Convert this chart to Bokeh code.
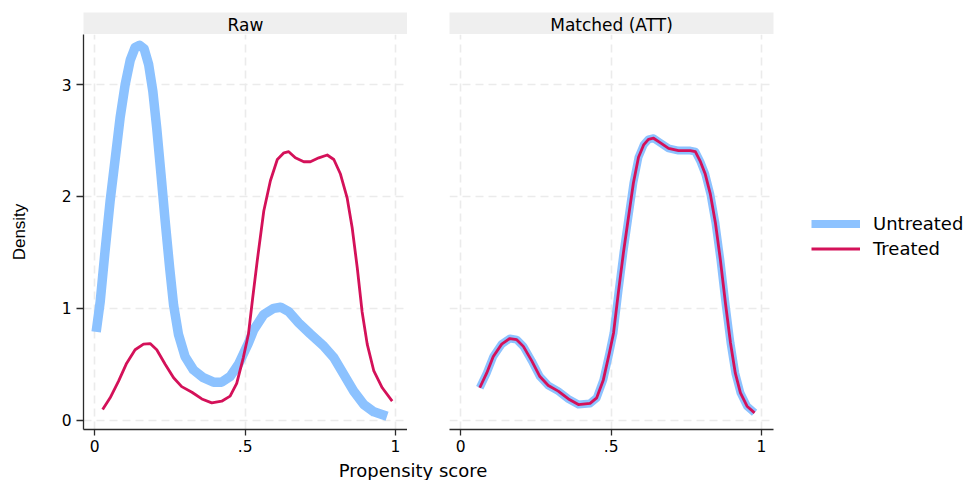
from bokeh.plotting import figure
from bokeh.layouts import row, column
from bokeh.models import Range1d, LinearAxis, Grid, FixedTicker, Legend, LegendItem
from bokeh.core.properties import value
from bokeh.embed import file_html
from bokeh.resources import INLINE

# ---------------- data ----------------
panels = ["Raw", "Matched (ATT)"]
series = ["Untreated", "Treated"]
x_title = "Propensity score"
y_title = "Density"
x_ticks = [0, 0.5, 1]
x_tick_labels = ["0", ".5", "1"]
y_ticks = [0, 1, 2, 3]
y_tick_labels = ["0", "1", "2", "3"]

raw_untreated_x = [0.0045, 0.018, 0.034, 0.051, 0.068, 0.084, 0.101, 0.118, 0.134, 0.149, 0.164,
                   0.179, 0.193, 0.206, 0.220, 0.234, 0.249, 0.262, 0.278, 0.300, 0.328, 0.361,
                   0.395, 0.422, 0.450, 0.478, 0.511, 0.529, 0.562, 0.595, 0.618, 0.645, 0.678,
                   0.717, 0.762, 0.795, 0.828, 0.861, 0.895, 0.928, 0.972]
raw_untreated_y = [0.79, 1.06, 1.51, 1.96, 2.34, 2.70, 3.00, 3.22, 3.33, 3.35, 3.32,
                   3.18, 2.94, 2.61, 2.20, 1.78, 1.36, 1.03, 0.77, 0.57, 0.45, 0.38,
                   0.34, 0.34, 0.39, 0.50, 0.69, 0.81, 0.945, 1.00, 1.01, 0.97, 0.87,
                   0.77, 0.66, 0.56, 0.41, 0.26, 0.14, 0.075, 0.036]

raw_treated_x = [0.026, 0.051, 0.079, 0.106, 0.134, 0.162, 0.184, 0.206, 0.234, 0.262, 0.289,
                 0.323, 0.356, 0.389, 0.422, 0.450, 0.472, 0.494, 0.511, 0.525, 0.540, 0.562,
                 0.584, 0.607, 0.629, 0.645, 0.667, 0.695, 0.717, 0.745, 0.773, 0.795, 0.817,
                 0.839, 0.856, 0.873, 0.889, 0.906, 0.928, 0.956, 0.989]
raw_treated_y = [0.096, 0.20, 0.35, 0.51, 0.63, 0.68, 0.685, 0.63, 0.50, 0.38, 0.30,
                 0.25, 0.19, 0.155, 0.17, 0.215, 0.33, 0.56, 0.77, 1.09, 1.42, 1.87,
                 2.14, 2.33, 2.39, 2.40, 2.345, 2.31, 2.31, 2.345, 2.37, 2.33, 2.20,
                 1.99, 1.72, 1.36, 0.97, 0.68, 0.44, 0.29, 0.17]

matched_untreated_x = [0.063, 0.086, 0.108, 0.136, 0.163, 0.186, 0.208, 0.236, 0.263, 0.291, 0.324,
                       0.358, 0.391, 0.430, 0.452, 0.474, 0.494, 0.508, 0.524, 0.541, 0.558, 0.574,
                       0.591, 0.608, 0.624, 0.641, 0.663, 0.691, 0.724, 0.763, 0.780, 0.797, 0.813,
                       0.830, 0.847, 0.863, 0.880, 0.897, 0.913, 0.930, 0.952, 0.977]
matched_untreated_y = [0.29, 0.42, 0.57, 0.68, 0.73, 0.72, 0.66, 0.53, 0.39, 0.31, 0.26,
                       0.19, 0.14, 0.15, 0.20, 0.36, 0.60, 0.78, 1.14, 1.50, 1.82, 2.12,
                       2.35, 2.46, 2.51, 2.52, 2.48, 2.43, 2.41, 2.41, 2.40, 2.31, 2.20,
                       2.02, 1.76, 1.44, 1.05, 0.69, 0.42, 0.245, 0.125, 0.066]

matched_treated_x = [0.063, 0.086, 0.108, 0.136, 0.163, 0.186, 0.208, 0.236, 0.263, 0.291, 0.324,
                     0.358, 0.391, 0.430, 0.452, 0.474, 0.494, 0.508, 0.524, 0.541, 0.558, 0.574,
                     0.591, 0.608, 0.624, 0.641, 0.663, 0.691, 0.724, 0.763, 0.780, 0.797, 0.813,
                     0.830, 0.847, 0.863, 0.880, 0.897, 0.913, 0.930, 0.952, 0.977]
matched_treated_y = [0.29, 0.42, 0.57, 0.68, 0.73, 0.72, 0.66, 0.53, 0.39, 0.31, 0.26,
                     0.19, 0.14, 0.15, 0.20, 0.36, 0.60, 0.78, 1.14, 1.50, 1.82, 2.12,
                     2.35, 2.46, 2.51, 2.52, 2.48, 2.43, 2.41, 2.41, 2.40, 2.31, 2.20,
                     2.02, 1.76, 1.44, 1.05, 0.69, 0.42, 0.245, 0.125, 0.066]

# ---------------- style ----------------
BLUE = "#8cc2ff"
RED = "#d41159"
AXIS = "#2b2b2b"
GRID = "#ebebeb"
STRIP = "#efefef"
FONT = "DejaVu Sans"

TOTAL_W = 966
FRAME_W = 324
FRAME_H = 395
LEFT = 83
GAP = 42
LEG_W = TOTAL_W - LEFT - FRAME_W - GAP - FRAME_W
TOP = 12
STRIP_H = 22
BOTTOM = 31
XLAB_H = 20
XLAB_FRAME = 825
LEG_X = 38          # legend key offset from the right panel's frame edge
LEG_CENTER = 193    # legend vertical centre, px above frame bottom

X_RANGE = (-0.0376, 1.040)
Y_RANGE = (-0.083, 3.447)

overrides_x = {t: l for t, l in zip(x_ticks, x_tick_labels)}
overrides_y = {t: l for t, l in zip(y_ticks, y_tick_labels)}


def bare(**kw):
    f = figure(toolbar_location=None, output_backend="svg", x_axis_location=None, y_axis_location=None,
               outline_line_color=None, border_fill_color="white", **kw)
    f.center = []
    return f


def strip(title, lb, rb):
    s = bare(frame_width=FRAME_W, frame_height=STRIP_H, min_border_left=lb, min_border_right=rb,
             min_border_top=TOP, min_border_bottom=0, x_range=Range1d(0, 1), y_range=Range1d(0, 1),
             background_fill_color=STRIP)
    s.text(x=[0.5], y=[0.45], text=[title], text_align="center", text_baseline="middle",
           text_font=value(FONT), text_font_size="17px", text_color="black")
    return s


def panel(lb, rb, with_y):
    p = bare(frame_width=FRAME_W, frame_height=FRAME_H, min_border_left=lb, min_border_right=rb,
             min_border_top=0, min_border_bottom=BOTTOM,
             x_range=Range1d(*X_RANGE), y_range=Range1d(*Y_RANGE), background_fill_color="white")
    for dim, ticks in ((0, x_ticks), (1, y_ticks)):
        p.add_layout(Grid(dimension=dim, ticker=FixedTicker(ticks=ticks, minor_ticks=[]),
                          grid_line_color=GRID, grid_line_width=1.6, grid_line_dash="8 5"))
    xa = LinearAxis(ticker=FixedTicker(ticks=x_ticks, minor_ticks=[]), major_label_overrides=overrides_x,
                    axis_line_color=AXIS, axis_line_width=1.3, major_tick_line_color=AXIS,
                    major_tick_line_width=1.3, major_tick_in=0, major_tick_out=6, minor_tick_in=0,
                    minor_tick_out=0, major_label_standoff=4, major_label_text_font=FONT,
                    major_label_text_font_size="15.5px", major_label_text_color="black")
    p.add_layout(xa, "below")
    if with_y:
        ya = LinearAxis(ticker=FixedTicker(ticks=y_ticks, minor_ticks=[]), major_label_overrides=overrides_y,
                        axis_line_color=AXIS, axis_line_width=1.3, major_tick_line_color=AXIS,
                        major_tick_line_width=1.3, major_tick_in=0, major_tick_out=7, minor_tick_in=0,
                        minor_tick_out=0, major_label_standoff=5, major_label_text_font=FONT,
                        major_label_text_font_size="15.5px", major_label_text_color="black",
                        axis_label=y_title, axis_label_text_font="Liberation Sans",
                        axis_label_text_font_size="17px", axis_label_text_font_style="normal",
                        axis_label_text_color="black", axis_label_standoff=30)
        p.add_layout(ya, "left")
    return p


s1 = strip(panels[0], LEFT, 0)
s2 = strip(panels[1], GAP, LEG_W)

p1 = panel(LEFT, 0, True)
p1.line(raw_untreated_x, raw_untreated_y, line_color=BLUE, line_width=9.5, line_join="round", line_cap="butt")
p1.line(raw_treated_x, raw_treated_y, line_color=RED, line_width=2.8, line_join="round", line_cap="butt")

p2 = panel(GAP, LEG_W, False)
rb = p2.line(matched_untreated_x, matched_untreated_y, line_color=BLUE, line_width=8, line_join="round", line_cap="butt")
rr = p2.line(matched_treated_x, matched_treated_y, line_color=RED, line_width=2.8, line_join="round", line_cap="butt")

ITEM_H = 21
SPACING = 4
leg_h = 2 * ITEM_H + SPACING
legend = Legend(items=[LegendItem(label=series[0], renderers=[rb]), LegendItem(label=series[1], renderers=[rr])],
                location=(LEG_X, LEG_CENTER - leg_h // 2), orientation="vertical",
                margin=0, padding=0, spacing=SPACING,
                glyph_width=49, glyph_height=ITEM_H, label_standoff=13, label_height=ITEM_H,
                label_text_font=FONT, label_text_font_size="18px", label_text_color="black",
                border_line_color=None, background_fill_alpha=0)
p2.add_layout(legend, "right")

xl = bare(frame_width=XLAB_FRAME, frame_height=XLAB_H, min_border_left=0,
          min_border_right=TOTAL_W - XLAB_FRAME, min_border_top=0, min_border_bottom=0,
          x_range=Range1d(0, 1), y_range=Range1d(0, 1), background_fill_color="white")
xl.text(x=[0.5], y=[0.5], text=[x_title], text_align="center", text_baseline="middle",
        text_font=value(FONT), text_font_size="18px", text_color="black")

layout = column(row(s1, s2), row(p1, p2), xl)

open("out.html", "w").write(file_html(layout, INLINE))
